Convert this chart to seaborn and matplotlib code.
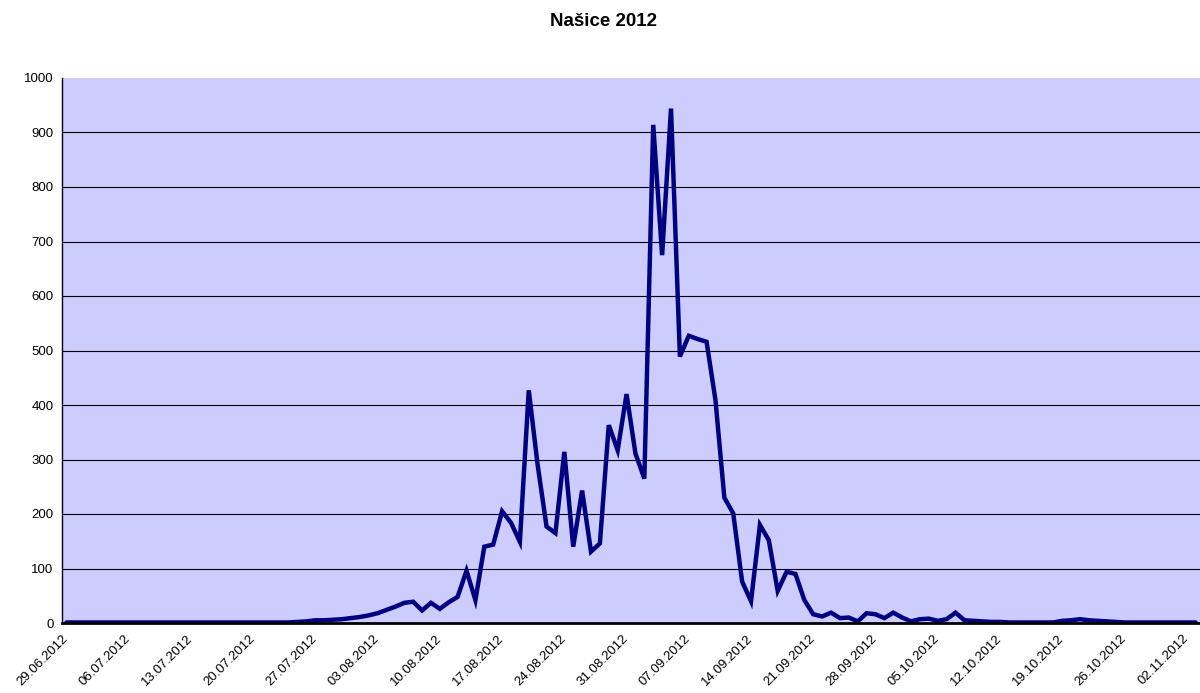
import numpy as np
import pandas as pd
import seaborn as sns
import matplotlib.pyplot as plt

# daily values, 29.06.2012 - 03.11.2012
start_date = "2012-06-29"
values = [
    1, 1, 1, 1, 1, 1, 1, 1, 1, 1,
    1, 1, 1, 1, 1, 1, 1, 1, 1, 1,
    1, 1, 1, 1, 1, 1, 2, 3, 5, 5,
    6, 7, 9, 11, 14, 18, 24, 30, 37, 39,
    23, 37, 26, 38, 48, 96, 42, 140, 144, 205,
    184, 149, 427, 290, 177, 165, 314, 140, 243, 131,
    146, 363, 317, 420, 311, 265, 914, 675, 944, 489,
    527, 521, 516, 409, 230, 201, 76, 40, 180, 152,
    59, 94, 90, 42, 16, 12, 19, 9, 10, 3,
    18, 16, 9, 19, 10, 3, 7, 8, 4, 7,
    19, 5, 4, 3, 2, 2, 1, 1, 1, 1,
    1, 1, 4, 5, 7, 5, 4, 3, 2, 1,
    1, 1, 1, 1, 1, 1, 1, 1,
]
title = "Našice 2012"

dates = pd.date_range(start_date, periods=len(values), freq="D")
df = pd.DataFrame({"day": np.arange(len(values)) + 0.5, "value": values})
tick_days = np.arange(0, len(values), 7)
tick_labels = [d.strftime("%d.%m.%Y") for d in dates[tick_days]]

sns.set_style("white")
plt.rcParams["font.family"] = ["Liberation Sans", "DejaVu Sans"]
plt.rcParams["text.color"] = "black"

fig = plt.figure(figsize=(12, 6.93), dpi=100)
ax = fig.add_axes([62 / 1200, 1 - 623 / 693, 1 - 62 / 1200, (623 - 78) / 693])
ax.set_facecolor("#CCCCFF")

sns.lineplot(data=df, x="day", y="value", ax=ax, color="#000080",
             linewidth=3.2, solid_joinstyle="miter")

ax.set_xlim(0, len(values))
ax.set_ylim(0, 1000)
ax.set_yticks(range(0, 1001, 100))
ax.set_xticks(tick_days)
ax.set_xticklabels(tick_labels, rotation=45, ha="right", va="top",
                   rotation_mode="anchor")
ax.set_xlabel("")
ax.set_ylabel("")
ax.tick_params(axis="both", labelsize=9.5, length=4, width=1.5,
               direction="out", colors="black", pad=3)
ax.tick_params(axis="y", width=1, pad=2)

for v in range(100, 1000, 100):
    ax.axhline(v, color="black", linewidth=0.8, zorder=0.5)

for s in ["top", "right"]:
    ax.spines[s].set_visible(False)
ax.spines["left"].set_color("black")
ax.spines["left"].set_linewidth(1)
ax.spines["bottom"].set_color("black")
ax.spines["bottom"].set_linewidth(2)

fig.text(0.503, 1 - 22 / 693, title, ha="center", va="center",
         fontsize=13.5, fontweight="bold", color="black")

fig.savefig("out.png", dpi=100)
